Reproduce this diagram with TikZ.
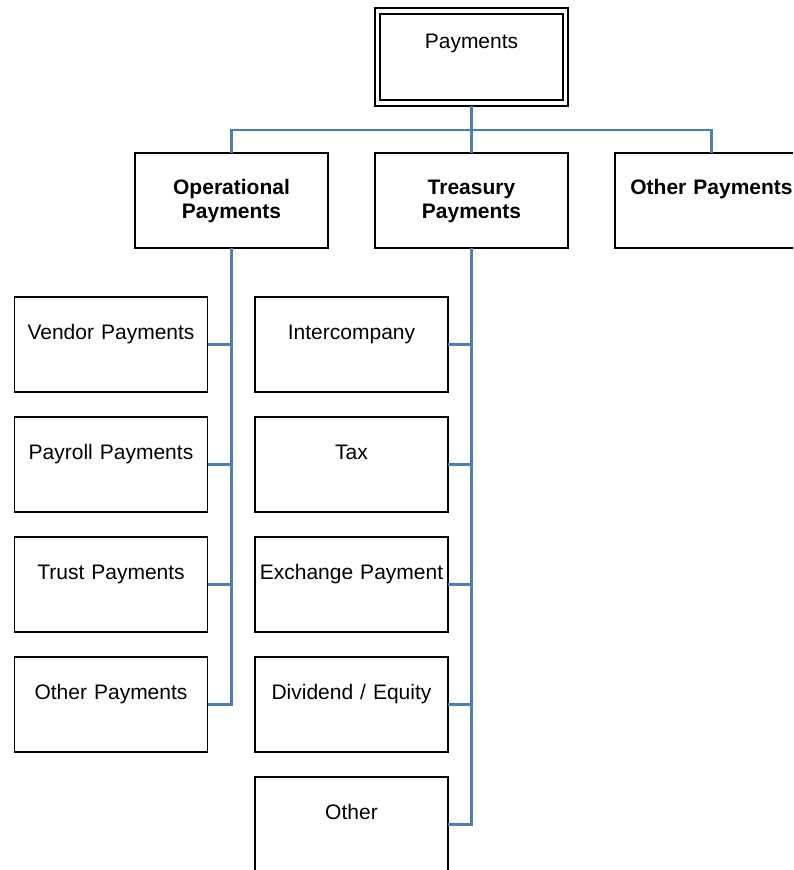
\documentclass[tikz,border=0pt]{standalone}
\usepackage{fontspec}
\setmainfont{Liberation Sans}
\definecolor{connblue}{RGB}{74,126,187}
\begin{document}
\begin{tikzpicture}[x=0.75pt,y=-0.75pt,
  box/.style={draw=black,line width=1.2pt,minimum width=144.75pt,minimum height=71.25pt,inner sep=0pt,outer sep=0pt},
  lbl/.style={font=\fontsize{15.75}{17.25}\selectfont,inner sep=0pt,anchor=base,text width=150pt,align=center},
  blbl/.style={lbl,font=\fontsize{15.75}{17.25}\selectfont\bfseries},
  conn/.style={draw=connblue,line width=1.6pt}]
\useasboundingbox (0,0) rectangle (793,870);
\clip (0,0) rectangle (793,870);
% root
\node[box,minimum height=73.5pt] (root) at (471.5,57) {};
\draw[line width=1.2pt] ([xshift=3.75pt,yshift=-4.5pt]root.north west) rectangle ([xshift=-3.75pt,yshift=4.5pt]root.south east);
\node[lbl] (troot) at ([yshift=-30.75pt]root.north) {Payments};
% level 1
\node[box] (ops) at (231.5,200.5) {};
\node[box] (tre) at (471.5,200.5) {};
\node[box] (oth) at (711.5,200.5) {};
\node[blbl] (tops) at ([yshift=-31.5pt]ops.north) {Operational\\Payments};
\node[blbl] (ttre) at ([yshift=-31.5pt]tre.north) {Treasury\\Payments};
\node[blbl] (toth) at ([yshift=-31.5pt]oth.north) {Other Payments};
% operational children
\node[box] (o1) at (111,344.5) {};
\node[box] (o2) at (111,464.5) {};
\node[box] (o3) at (111,584.5) {};
\node[box] (o4) at (111,704.5) {};
\node[lbl] (to1) at ([yshift=-31.5pt]o1.north) {Vendor Payments};
\node[lbl] (to2) at ([yshift=-31.5pt]o2.north) {Payroll Payments};
\node[lbl] (to3) at ([yshift=-31.5pt]o3.north) {Trust Payments};
\node[lbl] (to4) at ([yshift=-31.5pt]o4.north) {Other Payments};
% treasury children
\node[box] (t1) at (351.5,344.5) {};
\node[box] (t2) at (351.5,464.5) {};
\node[box] (t3) at (351.5,584.5) {};
\node[box] (t4) at (351.5,704.5) {};
\node[box] (t5) at (351.5,824.5) {};
\node[lbl] (tt1) at ([yshift=-31.5pt]t1.north) {Intercompany};
\node[lbl] (tt2) at ([yshift=-31.5pt]t2.north) {Tax};
\node[lbl] (tt3) at ([yshift=-31.5pt]t3.north) {Exchange Payment};
\node[lbl] (tt4) at ([yshift=-31.5pt]t4.north) {Dividend / Equity};
\node[lbl] (tt5) at ([yshift=-31.5pt]t5.north) {Other};
% connectors
\draw[conn] (root.south) -- ++(0,24) -| (ops.north);
\draw[conn] (root.south) -- (tre.north);
\draw[conn] (root.south) -- ++(0,24) -| (oth.north);
\foreach \c in {o1,o2,o3,o4} \draw[conn] (ops.south) |- (\c.east);
\foreach \c in {t1,t2,t3,t4,t5} \draw[conn] (tre.south) |- (\c.east);
\end{tikzpicture}
\end{document}
